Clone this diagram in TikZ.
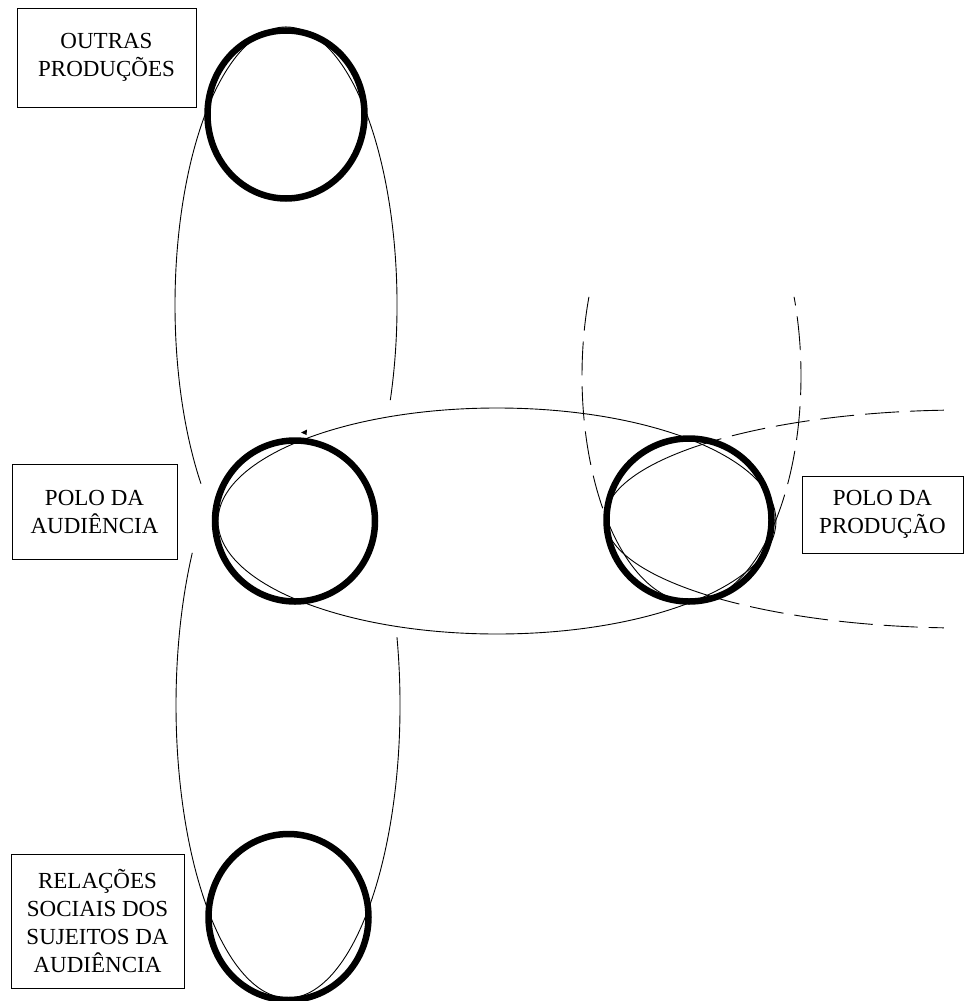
\documentclass[tikz,border=0pt]{standalone}
\usepackage{fontspec}
\setmainfont{Liberation Serif}
\begin{document}
\begin{tikzpicture}[x=1pt,y=-1pt,
  thinline/.style={line width=0.9pt},
  ring/.style={line width=6.5pt},
  dashline/.style={line width=0.9pt, dash pattern=on 34pt off 11pt},
  labelbox/.style={draw, line width=1pt, align=center, inner sep=0pt,
    font=\fontsize{23}{28}\selectfont}]
\useasboundingbox[fill=white] (0,0) rectangle (964,1001);

% circle centres
\coordinate (ctop) at (286,114.5);
\coordinate (cmid) at (295,521);
\coordinate (cright) at (689,520);
\coordinate (cbot) at (288.5,917);

% upper vertical lens (solid)
\draw[thinline] ([shift={(20:111 and 278)}]286,305)
  arc[start angle=20, end angle=-220, x radius=111, y radius=278];
% lower vertical lens (solid)
\draw[thinline] ([shift={(-13.4:112 and 293)}]288,705)
  arc[start angle=-13.4, end angle=211.3, x radius=112, y radius=293];
% horizontal lens between the two poles (solid)
\draw[thinline] (497,521) ellipse [x radius=279, y radius=113];
% small tip on the horizontal lens
\fill (301,432.5) -- (307,429.5) -- (306.5,435) -- cycle;

% right horizontal lens (dashed)
\draw[dashline] ([shift={(266.8:359 and 109)}]964,519)
  arc[start angle=266.8, end angle=222.7, x radius=359, y radius=109];
\draw[thinline] ([shift={(222.7:359 and 109)}]964,519)
  arc[start angle=222.7, end angle=135.8, x radius=359, y radius=109];
\draw[dashline] ([shift={(135.8:359 and 109)}]964,519)
  arc[start angle=135.8, end angle=93.2, x radius=359, y radius=109];

% right vertical lens (dashed)
\draw[dashline] ([shift={(200.5:109.5 and 226)}]691.5,376)
  arc[start angle=200.5, end angle=142.2, x radius=109.5, y radius=226];
\draw[thinline] ([shift={(142.2:109.5 and 226)}]691.5,376)
  arc[start angle=142.2, end angle=41.8, x radius=109.5, y radius=226];
\draw[dashline] ([shift={(41.8:109.5 and 226)}]691.5,376)
  arc[start angle=41.8, end angle=-20.5, x radius=109.5, y radius=226];

% the four poles
\draw[ring] (ctop) ellipse [x radius=78.5, y radius=84];
\draw[ring] (cmid) ellipse [x radius=80, y radius=80.5];
\draw[ring] (cright) ellipse [x radius=82.5, y radius=81.5];
\draw[ring] (cbot) ellipse [x radius=80, y radius=83];

% label boxes
\node[labelbox, minimum width=179pt, minimum height=99pt] (b1) at (106.5,57.5) {OUTRAS\\PRODUÇÕES};
\node[labelbox, minimum width=165pt, minimum height=95pt] (b2) at (94.5,511.5) {POLO DA\\AUDIÊNCIA};
\node[labelbox, minimum width=161pt, minimum height=77pt] (b3) at (882.5,514.5) {POLO DA\\PRODUÇÃO};
\node[labelbox, minimum width=173pt, minimum height=134pt] (b4) at (97.5,921) {RELAÇÕES\\SOCIAIS DOS\\SUJEITOS DA\\AUDIÊNCIA};
\end{tikzpicture}
\end{document}
